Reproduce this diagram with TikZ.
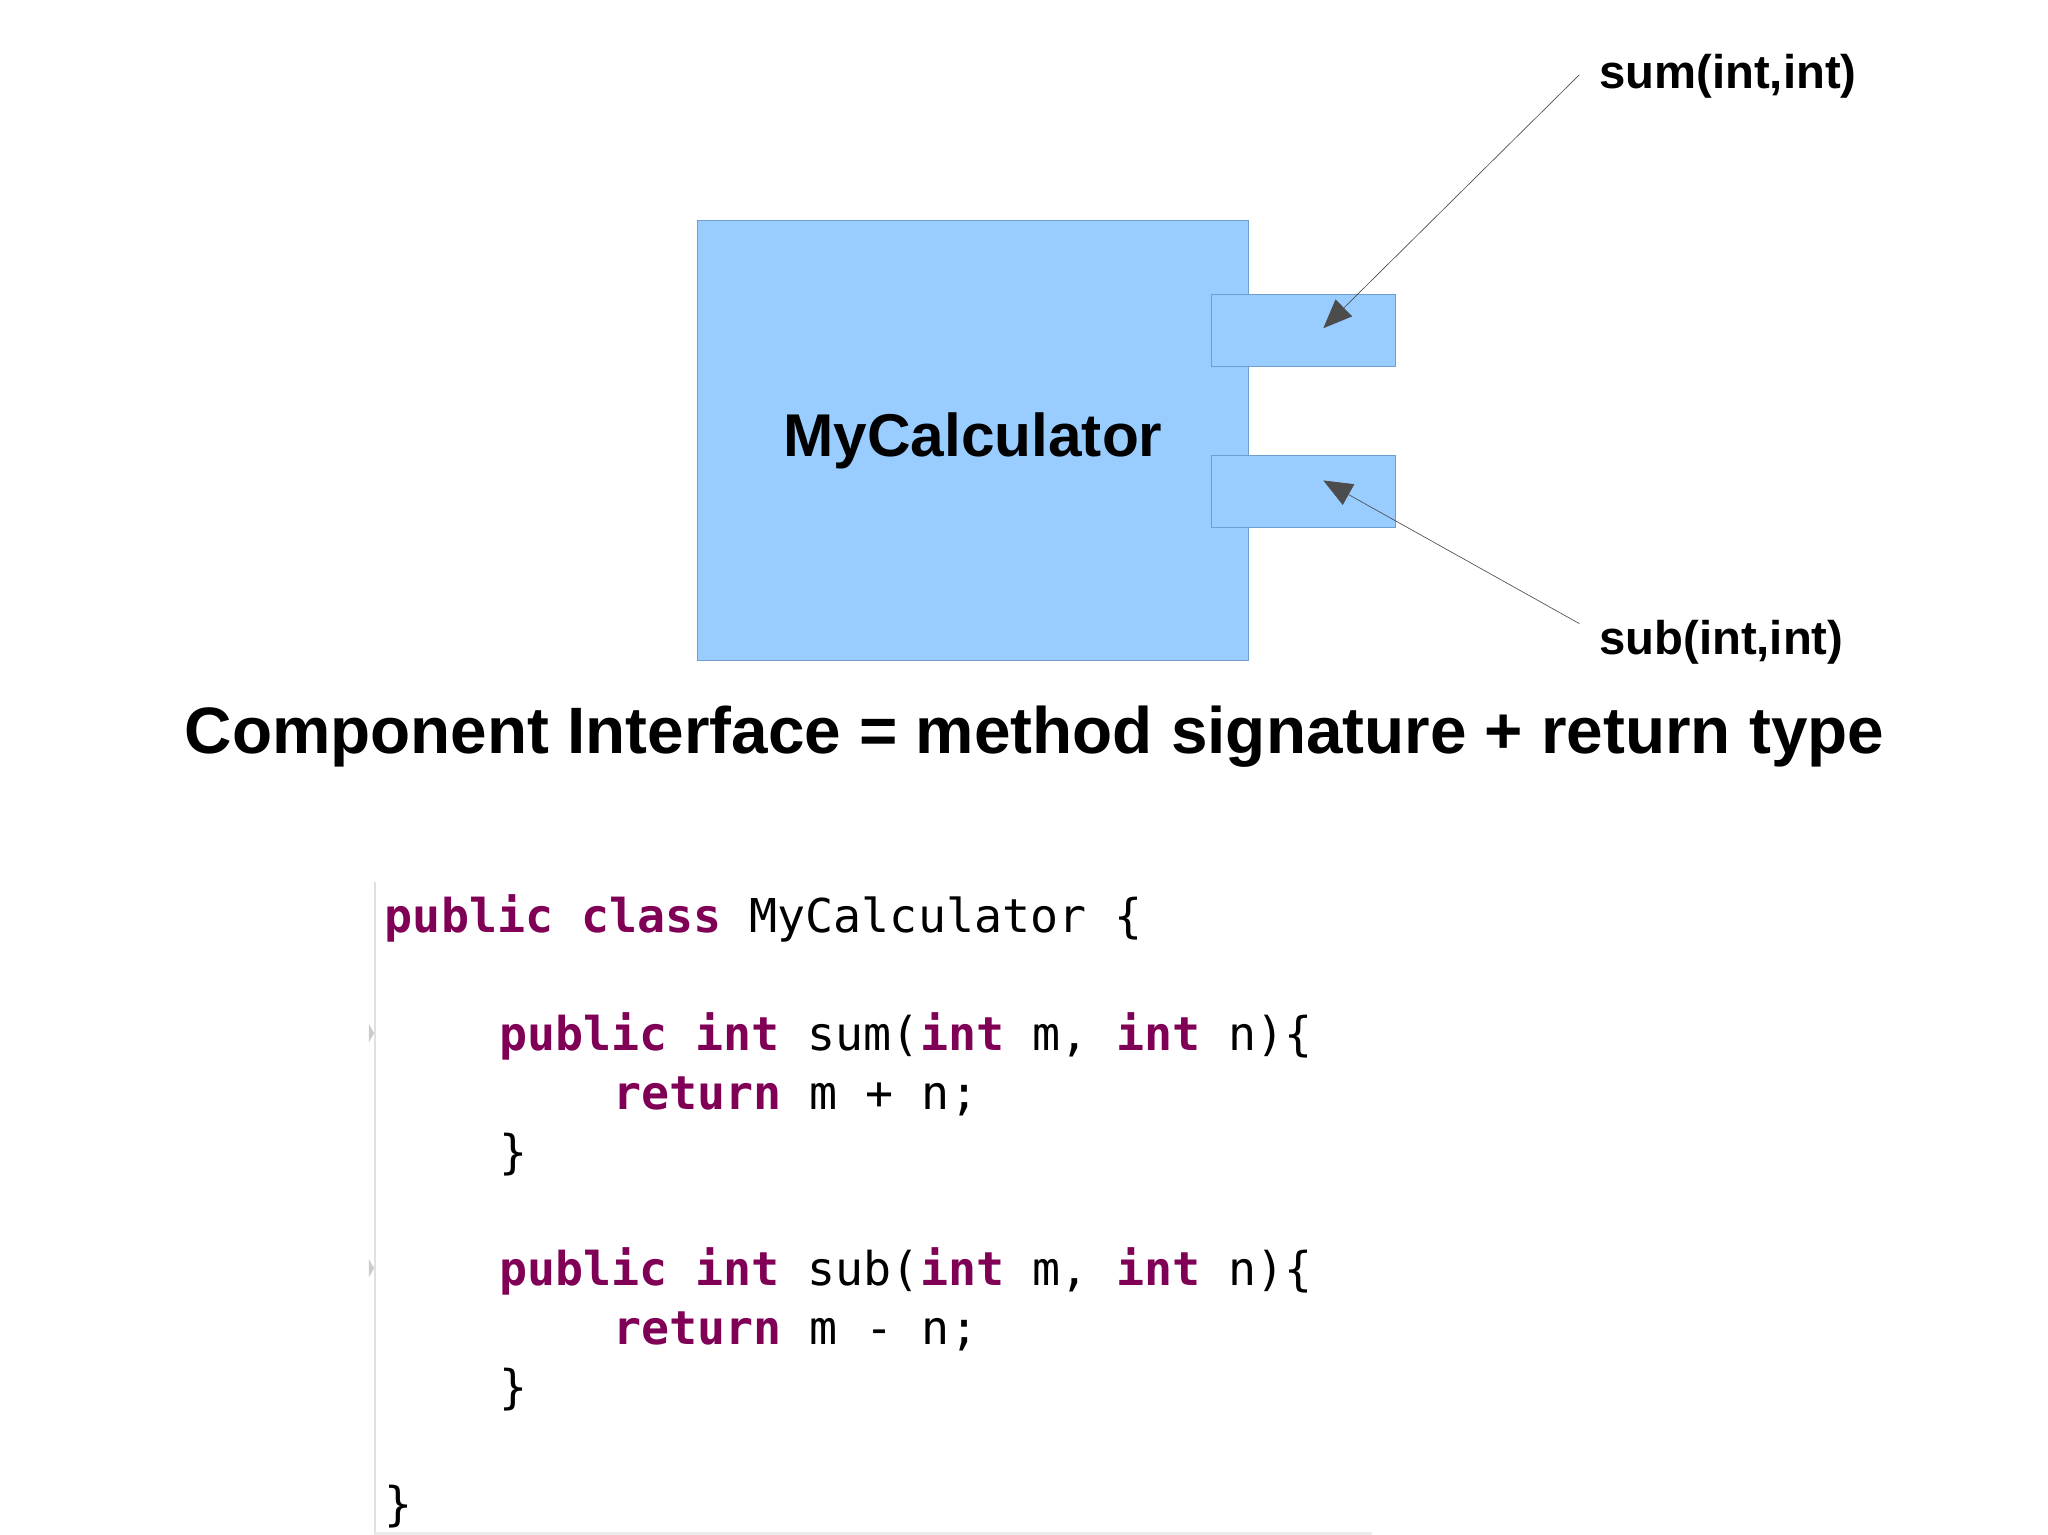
\documentclass[tikz,border=0pt]{standalone}
\usepackage{fontspec}
\setmainfont{Liberation Sans}
\newfontfamily\codefont{DejaVu Sans Mono}
\usetikzlibrary{arrows.meta}
\definecolor{boxblue}{HTML}{99CCFF}
\definecolor{boxedge}{HTML}{6F9FCF}
\definecolor{kw}{HTML}{7F0055}
\begin{document}
\begin{tikzpicture}[x=1pt,y=-1pt,
  comp/.style={draw=boxedge,fill=boxblue,line width=0.8pt},
  lbl/.style={font=\fontsize{36}{40}\selectfont\bfseries,anchor=west,inner sep=0},
  ptr/.style={line width=0.5pt,draw=black!70,-{Triangle[length=22,width=18]}},
  code/.style={font=\codefont\fontsize{35.5}{40}\selectfont,anchor=base west,inner sep=0}]
\useasboundingbox (0,0) rectangle (1560,1169);
\newcommand{\kwd}[1]{\textcolor{kw}{\bfseries #1}}
\draw[comp] (531,168) rectangle (951,503);
\node[font=\fontsize{46}{50}\selectfont\bfseries] (mc) at (741,336) {MyCalculator};
\draw[comp] (923,224) rectangle (1063,279) coordinate (p1);
\draw[comp] (923,347) rectangle (1063,402) coordinate (p2);
\coordinate (t1) at (1008,250);
\coordinate (t2) at (1008,366);
\node[lbl] (sum) at (1218,58) {sum(int,int)};
\node[lbl] (sub) at (1218,489) {sub(int,int)};
\coordinate (s1) at (1203,57);
\coordinate (s2) at (1203,475);
\draw[ptr] (s1) -- (t1);
\draw[ptr] (s2) -- (t2);
\node[font=\fontsize{50}{56}\selectfont\bfseries] (title) at (788,561) {Component Interface = method signature + return type};
% code
\draw[black!12,line width=1.5pt] (286,672) -- (286,1170);
\draw[black!8,line width=2pt] (286,1168) -- (1045,1168);
\node[code] (l1) at (293,710) {\kwd{public} \kwd{class} MyCalculator \{};
\node[code] (l2) at (380,800) {\kwd{public} \kwd{int} sum(\kwd{int} m, \kwd{int} n)\{};
\node[code] (l3) at (467,845) {\kwd{return} m + n;};
\node[code] (l4) at (380,890) {\}};
\node[code] (l5) at (380,979) {\kwd{public} \kwd{int} sub(\kwd{int} m, \kwd{int} n)\{};
\node[code] (l6) at (467,1024) {\kwd{return} m - n;};
\node[code] (l7) at (380,1069) {\}};
\node[code] (l8) at (293,1158) {\}};
\fill[black!20] (281,780) -- (285,787) -- (281,794) -- cycle;
\fill[black!20] (281,959) -- (285,966) -- (281,973) -- cycle;
\end{tikzpicture}
\end{document}
